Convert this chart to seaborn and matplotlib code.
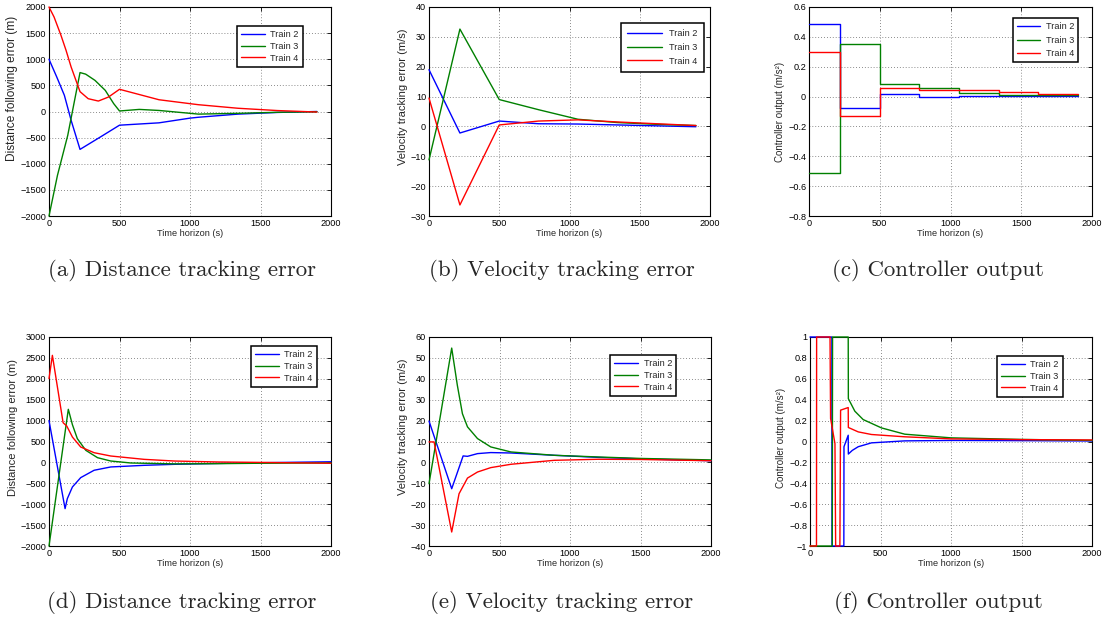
import matplotlib
matplotlib.use("Agg")
import matplotlib.pyplot as plt
import seaborn as sns
from matplotlib.ticker import FuncFormatter, FixedLocator

# ---------------- data ----------------
series_labels = ["Train 2", "Train 3", "Train 4"]
colors = ["#0000ff", "#008000", "#ff0000"]

# (a) distance tracking error
a_blue_t = [0, 55, 109, 157, 220, 360, 500, 780, 1000, 1060, 1340, 1620, 1900]
a_blue = [1000, 660, 310, -170, -725, -495, -262, -217, -127, -110, -50, -18, 0]
a_green_t = [0, 60, 133, 193, 220, 260, 326, 399, 459, 500, 640, 780, 1060, 1340, 1620, 1900]
a_green = [-2000, -1222, -456, 373, 745, 715, 596, 405, 150, 10, 40, 20, -50, -35, -15, -5]
a_red_t = [0, 36, 85, 121, 157, 220, 278, 350, 422, 500, 780, 1000, 1060, 1340, 1620, 1900]
a_red = [2000, 1808, 1457, 1170, 851, 380, 245, 200, 277, 425, 225, 150, 130, 62, 18, -10]

# (b) velocity tracking error
b_t = [0, 220, 500, 780, 1060, 1340, 1620, 1900]
b_blue = [19.0, -2.2, 1.8, 0.9, 0.8, 0.5, 0.2, -0.1]
b_green = [-11.2, 32.6, 9.0, 5.6, 2.4, 1.3, 0.7, 0.3]
b_red = [9.5, -26.3, 0.5, 1.8, 2.2, 1.5, 0.9, 0.3]

# (c) controller output (piecewise constant)
c_t = [0, 220, 500, 780, 1060, 1340, 1620, 1900]
c_blue = [0.485, -0.075, 0.015, 0.0, 0.004, 0.004, 0.004, 0.004]
c_green = [-0.51, 0.35, 0.083, 0.056, 0.025, 0.013, 0.009, 0.009]
c_red = [0.297, -0.132, 0.058, 0.045, 0.042, 0.029, 0.02, 0.02]

# (d) distance tracking error
d_blue_t = [0, 114, 130, 166, 225, 320, 438, 675, 889, 1200, 1500, 1800, 2000]
d_blue = [1000, -1106, -867, -588, -364, -188, -109, -70, -46, -25, -8, 6, 15]
d_green_t = [0, 137, 166, 201, 261, 344, 438, 581, 889, 1200, 1500, 2000]
d_green = [-2000, 1270, 903, 568, 289, 113, 33, -14, -35, -30, -20, -12]
d_red_t = [0, 24, 100, 126, 166, 225, 320, 438, 675, 889, 1200, 1500, 2000]
d_red = [2003, 2561, 950, 870, 607, 368, 232, 153, 73, 33, 10, 0, -20]

# (e) velocity tracking error
e_blue_t = [0, 161, 242, 273, 344, 438, 581, 889, 1200, 1500, 2000]
e_blue = [19.8, -12.6, 3.1, 2.9, 4.2, 4.7, 4.5, 3.4, 2.4, 1.7, 0.8]
e_green_t = [0, 161, 201, 237, 273, 344, 438, 581, 889, 1200, 1500, 2000]
e_green = [-10.2, 54.7, 36.9, 23.3, 17.0, 11.4, 7.4, 5.0, 3.4, 2.6, 1.9, 1.2]
e_red_t = [0, 36, 161, 213, 273, 344, 438, 581, 889, 1200, 1500, 2000]
e_red = [9.8, 9.8, -33.3, -15.0, -7.5, -4.6, -2.5, -0.9, 1.0, 1.5, 1.4, 0.8]

# (f) controller output
f_blue_t = [0, 155, 156, 240, 241, 271, 272, 300, 342, 436, 672, 1000, 1500, 2000]
f_blue = [1, 1, -1, -1, -0.05, 0.06, -0.12, -0.085, -0.05, -0.013, 0.006, 0.01, 0.008, 0.005]
f_green_t = [0, 158, 160, 271, 272, 295, 318, 377, 507, 672, 1000, 1500, 2000]
f_green = [-1, -1, 1, 1, 0.41, 0.35, 0.29, 0.21, 0.13, 0.07, 0.035, 0.02, 0.01]
f_red_t = [0, 46, 47, 142, 146, 177, 182, 212, 217, 271, 272, 342, 436, 672, 1000, 1500, 2000]
f_red = [-1, -1, 1, 1, 0.22, -0.02, -1, -1, 0.3, 0.325, 0.134, 0.092, 0.067, 0.045, 0.025, 0.018, 0.015]

x_ticks = [0, 500, 1000, 1500, 2000]
captions = ["(a) Distance tracking error", "(b) Velocity tracking error", "(c) Controller output",
            "(d) Distance tracking error", "(e) Velocity tracking error", "(f) Controller output"]
ylabels = ["Distance following error (m)", "Velocity tracking error (m/s)", "Controller output (m/s\u00b2)"]
xlabel = "Time horizon (s)"

# ---------------- style ----------------
sns.set_style("white")
plt.rcParams["font.family"] = ["Liberation Sans", "DejaVu Sans"]
plt.rcParams["axes.unicode_minus"] = True

W, H = 1106, 620
fig = plt.figure(figsize=(W / 100, H / 100), dpi=100)
fig.patch.set_facecolor("white")


def rect(l, t, r, b):
    return [l / W, 1 - b / H, (r - l) / W, (b - t) / H]


def fmt(v, pos):
    s = "%g" % round(v, 6)
    return s.replace("-", "\u2212")


panels = [
    dict(r=rect(49, 7, 331, 216), ylim=(-2000, 2000), yt=list(range(-2000, 2001, 500)),
         data=[(a_blue_t, a_blue), (a_green_t, a_green), (a_red_t, a_red)], yl=0, yls=8.6, ly=0.61,
         leg=(303, 26), hl=2.6, ls=0.3, bp=0.45, htp=0.6, steps=False),
    dict(r=rect(429, 7, 710, 216), ylim=(-30, 40), yt=list(range(-30, 41, 10)),
         data=[(b_t, b_blue), (b_t, b_green), (b_t, b_red)], yl=1, yls=8.0, ly=0.57,
         leg=(704, 23), hl=3.8, ls=0.5, bp=0.7, htp=0.8, steps=False),
    dict(r=rect(809, 7, 1092, 216), ylim=(-0.8, 0.6), yt=[-0.8, -0.6, -0.4, -0.2, 0, 0.2, 0.4, 0.6],
         data=[(c_t, c_blue), (c_t, c_green), (c_t, c_red)], yl=2, yls=7.0, ly=0.50,
         leg=(1078, 18), hl=2.5, ls=0.5, bp=0.45, htp=0.6, steps=True),
    dict(r=rect(49, 337, 331, 546), ylim=(-2000, 3000), yt=list(range(-2000, 3001, 500)),
         data=[(d_blue_t, d_blue), (d_green_t, d_green), (d_red_t, d_red)], yl=0, yls=8.0, ly=0.567,
         leg=(317, 346), hl=2.6, ls=0.3, bp=0.45, htp=0.6, steps=False),
    dict(r=rect(429, 337, 711, 546), ylim=(-40, 60), yt=list(range(-40, 61, 10)),
         data=[(e_blue_t, e_blue), (e_green_t, e_green), (e_red_t, e_red)], yl=1, yls=8.0, ly=0.572,
         leg=(676, 355), hl=2.6, ls=0.3, bp=0.45, htp=0.6, steps=False),
    dict(r=rect(810, 337, 1092, 546), ylim=(-1, 1), yt=[-1, -0.8, -0.6, -0.4, -0.2, 0, 0.2, 0.4, 0.6, 0.8, 1],
         data=[(f_blue_t, f_blue), (f_green_t, f_green), (f_red_t, f_red)], yl=2, yls=7.0, ly=0.517,
         leg=(1063, 356), hl=2.6, ls=0.3, bp=0.45, htp=0.6, steps=False),
]

for p in panels:
    ax = fig.add_axes(p["r"])
    for (xs, ys), c, lab in zip(p["data"], colors, series_labels):
        kw = dict(drawstyle="steps-post") if p["steps"] else {}
        sns.lineplot(x=xs, y=ys, ax=ax, color=c, linewidth=1.0, label=lab,
                     estimator=None, sort=False, legend=False, clip_on=False, zorder=3, **kw)
    ax.set_xlim(0, 2000)
    ax.set_ylim(*p["ylim"])
    ax.xaxis.set_major_locator(FixedLocator(x_ticks))
    ax.yaxis.set_major_locator(FixedLocator(p["yt"]))
    ax.xaxis.set_major_formatter(FuncFormatter(fmt))
    ax.yaxis.set_major_formatter(FuncFormatter(fmt))
    ax.tick_params(direction="in", length=3, width=0.6, top=True, right=True,
                   labelsize=6.6, pad=2, colors="black")
    ax.grid(True, linestyle=(0, (1, 2.5)), color="#666666", linewidth=0.6)
    for s in ax.spines.values():
        s.set_visible(True)
        s.set_color("black")
        s.set_linewidth(0.8)
    ax.set_xlabel(xlabel, fontsize=6.6, labelpad=1)
    ax.set_ylabel(ylabels[p["yl"]], fontsize=p["yls"], labelpad=2, y=p["ly"])
    lx, ly = p["leg"]
    leg = ax.legend(loc="upper right", bbox_to_anchor=(lx / W, 1 - ly / H),
                    bbox_transform=fig.transFigure, borderaxespad=0,
                    fontsize=6.6, handlelength=p["hl"], labelspacing=p["ls"],
                    handletextpad=p["htp"], borderpad=p["bp"], fancybox=False,
                    framealpha=1, edgecolor="black")
    leg.get_frame().set_linewidth(1.1)
    leg.set_zorder(5)

cap_pos = [(182, 271), (562, 271), (938, 271), (182, 603), (562, 603), (938, 603)]
for (cx, cy), txt in zip(cap_pos, captions):
    fig.text(cx / W, 1 - cy / H, txt, ha="center", va="center",
             fontsize=16.5, family=["cmr10", "DejaVu Serif"])

fig.savefig("out.png", dpi=100, facecolor="white")
